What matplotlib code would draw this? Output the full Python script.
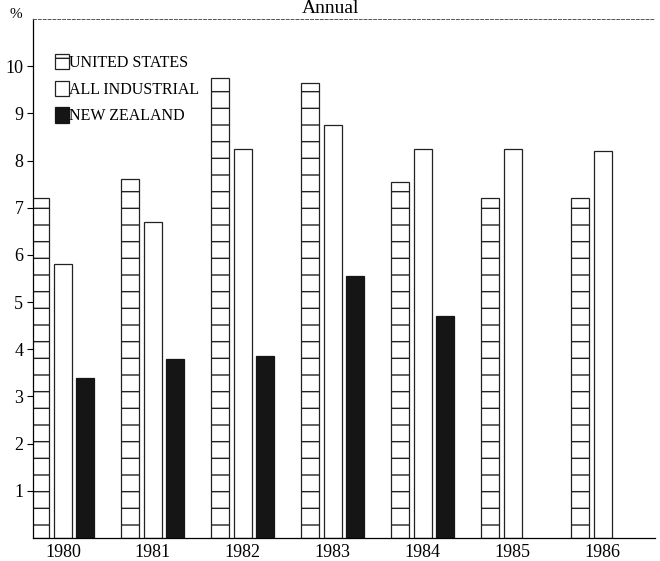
import matplotlib
matplotlib.use("Agg")
import matplotlib.pyplot as plt
import numpy as np

years = ["1980", "1981", "1982", "1983", "1984", "1985", "1986"]
united_states = [7.2, 7.6, 9.75, 9.65, 7.55, 7.2, 7.2]
all_industrial = [5.8, 6.7, 8.25, 8.75, 8.25, 8.25, 8.2]
new_zealand = [3.4, 3.8, 3.85, 5.55, 4.7, np.nan, np.nan]
series_names = ["UNITED STATES", "ALL INDUSTRIAL", "NEW ZEALAND"]
yticks = [1, 2, 3, 4, 5, 6, 7, 8, 9, 10]

plt.rcParams['font.family'] = ['Liberation Serif', 'DejaVu Serif']
plt.rcParams['hatch.linewidth'] = 1.0

fig = plt.figure(figsize=(6.6, 5.61), dpi=100)
ax = fig.add_axes([0.05, 0.041, 0.942, 0.925])

x = np.arange(len(years))
w = 0.2
ax.bar(x - 0.25, united_states, w, facecolor='white', edgecolor='#222222',
       hatch='-', linewidth=0.9, label=series_names[0])
ax.bar(x, all_industrial, w, facecolor='white', edgecolor='#222222',
       linewidth=0.9, label=series_names[1])
ax.bar(x + 0.25, new_zealand, w, facecolor='#151515', edgecolor='#151515',
       linewidth=0.9, label=series_names[2])

ax.set_xlim(-0.333, 6.58)
ax.set_ylim(0, 11)
ax.set_yticks(yticks)
ax.set_yticklabels([str(t) for t in yticks], fontsize=13)
ax.set_xticks(x)
ax.set_xticklabels(years, fontsize=13)
ax.tick_params(axis='x', length=0, pad=4)
ax.tick_params(axis='y', length=4, width=0.8, direction='out', pad=3)

ax.spines['right'].set_visible(False)
ax.spines['top'].set_linestyle((0, (3, 2)))
ax.spines['top'].set_linewidth(0.7)
ax.spines['top'].set_color('#555555')
ax.spines['left'].set_linewidth(0.9)
ax.spines['bottom'].set_linewidth(0.9)

leg = ax.legend(loc='upper left', bbox_to_anchor=(0.025, 0.945), frameon=False,
                fontsize=11.5, handlelength=0.85, handleheight=1.1,
                handletextpad=0.05, labelspacing=0.6, borderaxespad=0)

fig.text(0.5, 1.0, "Annual", ha='center', va='top', fontsize=14)
fig.text(0.015, 0.975, "%", ha='left', va='center', fontsize=11)

fig.savefig("out.png", dpi=100)
